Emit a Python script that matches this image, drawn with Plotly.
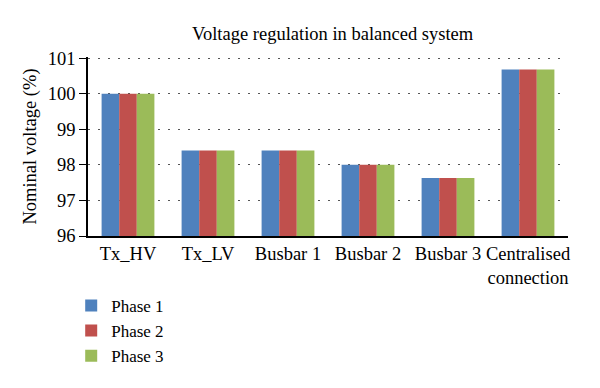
import plotly.graph_objects as go

categories = ["Tx_HV", "Tx_LV", "Busbar 1", "Busbar 2", "Busbar 3", "Centralised<br>connection"]
phase1 = [100.0, 98.4, 98.4, 98.0, 97.63, 100.68]
phase2 = [100.0, 98.4, 98.4, 98.0, 97.63, 100.68]
phase3 = [100.0, 98.4, 98.4, 98.0, 97.63, 100.68]
series_names = ["Phase 1", "Phase 2", "Phase 3"]
colors = ["#4F81BD", "#C0504D", "#9BBB59"]

font_family = "Liberation Serif, DejaVu Serif, serif"

fig = go.Figure()
for name, vals, col in zip(series_names, [phase1, phase2, phase3], colors):
    fig.add_trace(go.Bar(name=name, x=categories, y=vals, marker=dict(color=col, line=dict(width=0))))

fig.update_layout(
    width=600, height=388,
    margin=dict(l=80, r=40, t=49, b=160),
    paper_bgcolor="white", plot_bgcolor="white",
    barmode="group", bargap=0.34, bargroupgap=0,
    font=dict(family=font_family, size=18.5, color="black"),
    title=dict(text="Voltage regulation in balanced system", x=0.541, xanchor="center",
               y=0.935, yanchor="middle", font=dict(size=18.5)),
    showlegend=True,
    legend=dict(orientation="v", x=-0.035, xanchor="left", y=-0.29, yanchor="top",
                font=dict(size=17), traceorder="normal", tracegroupgap=0,
                bgcolor="rgba(0,0,0,0)"),
)
fig.update_yaxes(range=[96, 101.03], tickvals=[96, 97, 98, 99, 100, 101], showgrid=True,
                 gridcolor="#555555", griddash="1.5px,8.5px", gridwidth=1.3,
                 showline=True, linecolor="black", linewidth=1.6,
                 ticks="outside", ticklen=7, tickwidth=1.3, tickcolor="black", zeroline=False,
                 title=dict(text="Nominal voltage (%)", standoff=6, font=dict(size=18.5)))
fig.update_xaxes(showline=True, linecolor="black", linewidth=1.6, ticks="", showgrid=False)

fig.write_html("out.html")
